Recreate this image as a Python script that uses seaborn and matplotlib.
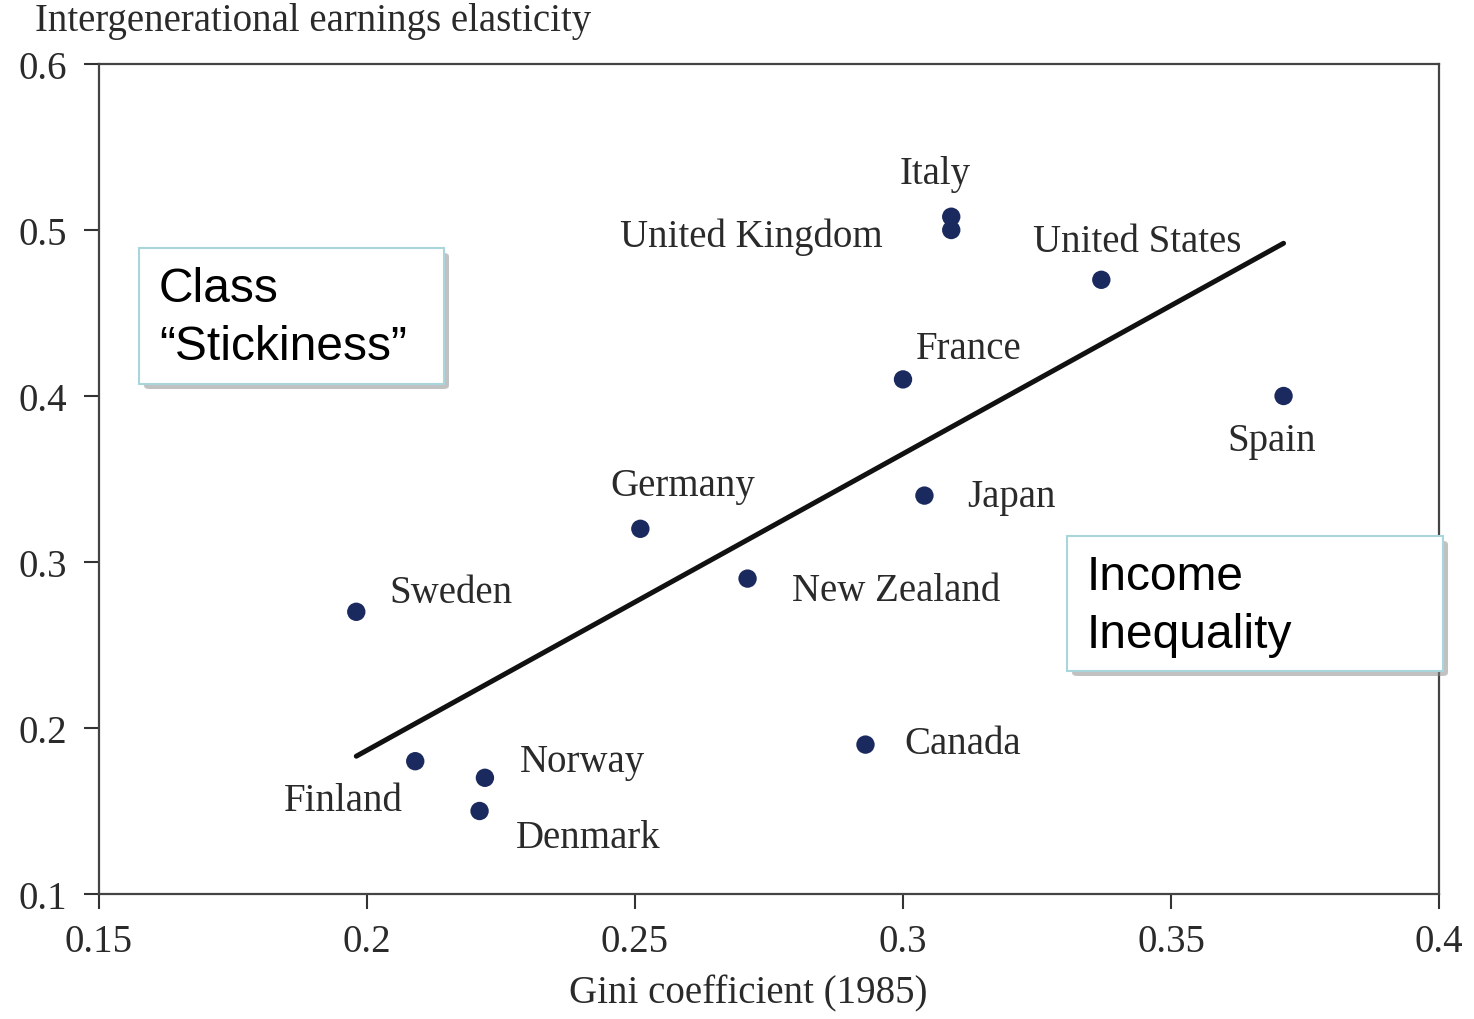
import matplotlib
matplotlib.use("Agg")
import matplotlib.pyplot as plt
import matplotlib.patches as mpatches
import seaborn as sns
import pandas as pd

countries = ["Italy", "United Kingdom", "United States", "France", "Spain", "Germany",
             "Japan", "Sweden", "New Zealand", "Canada", "Norway", "Finland", "Denmark"]
gini = [0.309, 0.309, 0.337, 0.300, 0.371, 0.251, 0.304, 0.198, 0.271, 0.293, 0.222, 0.209, 0.221]
elasticity = [0.508, 0.500, 0.470, 0.410, 0.400, 0.320, 0.340, 0.270, 0.290, 0.190, 0.170, 0.180, 0.150]
fit_x = [0.198, 0.371]
fit_y = [0.183, 0.492]
x_ticks = [0.15, 0.2, 0.25, 0.3, 0.35, 0.4]
x_tick_labels = ["0.15", "0.2", "0.25", "0.3", "0.35", "0.4"]
y_ticks = [0.1, 0.2, 0.3, 0.4, 0.5, 0.6]
y_tick_labels = ["0.1", "0.2", "0.3", "0.4", "0.5", "0.6"]

# label offsets in pixels (position styling)
label_offsets = {
    "Italy": (-16, 43), "United Kingdom": (-200, -6), "United States": (36, 38),
    "France": (66, 31), "Spain": (-12, -45), "Germany": (42, 43), "Japan": (87, -1),
    "Sweden": (95, 19), "New Zealand": (149, -12), "Canada": (97, 1),
    "Norway": (98, 16), "Finland": (-72, -39), "Denmark": (109, -26),
}

sns.set_theme(style="white")
plt.rcParams["font.family"] = ["Liberation Serif", "DejaVu Serif"]

W, H = 1474, 1020
fig = plt.figure(figsize=(W / 100, H / 100), dpi=100)
ax = fig.add_axes([99 / W, 1 - 895 / H, (1439 - 99) / W, (895 - 65) / H])

df = pd.DataFrame({"country": countries, "gini": gini, "elasticity": elasticity})
line_df = pd.DataFrame({"x": fit_x, "y": fit_y})

sns.lineplot(data=line_df, x="x", y="y", ax=ax, color="#111111", linewidth=3.6, zorder=2)
sns.scatterplot(data=df, x="gini", y="elasticity", ax=ax, color="#1b2a5e", s=175,
                edgecolor="none", zorder=3)

text_color = "#2a2a2a"
for c, gx, ey in zip(countries, gini, elasticity):
    dx, dy = label_offsets[c]
    ax.annotate(c, (gx, ey), xytext=(dx, dy), textcoords="offset pixels",
                ha="center", va="center", fontsize=28, color=text_color)

ax.set_xlim(0.15, 0.4)
ax.set_ylim(0.1, 0.6)
ax.set_xticks(x_ticks)
ax.set_xticklabels(x_tick_labels)
ax.set_yticks(y_ticks)
ax.set_yticklabels(y_tick_labels)
ax.tick_params(axis="x", direction="out", length=11, width=1.5, color="#333333",
               labelsize=28, labelcolor=text_color, pad=10, bottom=True)
ax.tick_params(axis="y", direction="out", length=11, width=1.5, color="#333333",
               labelsize=28, labelcolor=text_color, pad=12, left=True)
for s in ax.spines.values():
    s.set_color("#444444")
    s.set_linewidth(1.6)
ax.set_xlabel("")
ax.set_ylabel("")

fig.text(35 / W, 1 - 22 / H, "Intergenerational earnings elasticity", ha="left", va="center",
         fontsize=28, color=text_color)
fig.text(748 / W, 1 - 994 / H, "Gini coefficient (1985)", ha="center", va="center",
         fontsize=28, color=text_color)

def box(x0, y0, x1, y1, lines, tx, tys):
    # soft shadow
    for k, a in zip([8, 6, 4], [0.15, 0.2, 0.3]):
        sh = mpatches.FancyBboxPatch((x0 / W + 5 / W, 1 - (y1 + 5) / H), (x1 - x0) / W, (y1 - y0) / H,
                                     boxstyle=f"round,pad=0,rounding_size={k / W}",
                                     transform=fig.transFigure, facecolor="#8a8a8a", edgecolor="none",
                                     alpha=a, zorder=10)
        fig.add_artist(sh)
    r = mpatches.Rectangle((x0 / W, 1 - y1 / H), (x1 - x0) / W, (y1 - y0) / H,
                           transform=fig.transFigure, facecolor="white", edgecolor="#a9d6dc",
                           linewidth=1.5, zorder=11)
    fig.add_artist(r)
    for line, ty in zip(lines, tys):
        fig.text(tx / W, 1 - ty / H, line, ha="left", va="center", fontsize=34.5,
                 family=["Liberation Sans", "DejaVu Sans"], color="black", zorder=12)

box(139, 249, 444, 385, ["Class", "\u201cStickiness\u201d"], 159, [290, 347])
box(1067, 537, 1443, 672, ["Income", "Inequality"], 1087, [578, 635])

fig.savefig("out.png", dpi=100)
